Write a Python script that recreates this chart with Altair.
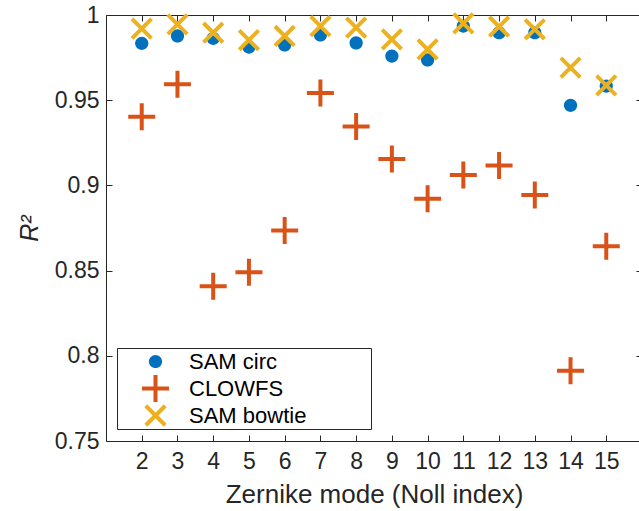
import altair as alt
import pandas as pd

modes = list(range(2, 16))
sam_circ = [0.9834, 0.9877, 0.9863, 0.9812, 0.9824, 0.9883, 0.9836,
            0.9759, 0.9736, 0.9935, 0.9896, 0.9896, 0.9470, 0.9583]
clowfs = [0.9403, 0.9593, 0.8408, 0.8490, 0.8735, 0.9542, 0.9346,
          0.9155, 0.8922, 0.9061, 0.9117, 0.8943, 0.7912, 0.8643]
sam_bowtie = [0.9920, 0.9945, 0.9896, 0.9853, 0.9877, 0.9935, 0.9926,
              0.9857, 0.9798, 0.9951, 0.9932, 0.9916, 0.9691, 0.9587]
series_names = ["SAM circ", "CLOWFS", "SAM bowtie"]
x_ticks = list(range(2, 16))
y_ticks = [0.75, 0.8, 0.85, 0.9, 0.95, 1.0]

rows = []
for name, vals in zip(series_names, [sam_circ, clowfs, sam_bowtie]):
    for m, v in zip(modes, vals):
        rows.append({"mode": m, "r2": v, "series": name})
df = pd.DataFrame(rows)

FONT = "Liberation Sans"
AX = "#262626"

BOX = "M-1,-1M1,1"
shape_range = [
    BOX + "M-0.49,0A0.49,0.49,0,1,0,0.49,0A0.49,0.49,0,1,0,-0.49,0Z",
    BOX + "M-1,0L1,0M0,-1L0,1",
    BOX + "M-0.72,-0.72L0.72,0.72M0.72,-0.72L-0.72,0.72",
]
fill_range = ["#0072BD", "transparent", "transparent"]
stroke_range = ["transparent", "#D95319", "#EDB120"]

xscale = alt.Scale(domain=[1, 16], nice=False, zero=False)
yscale = alt.Scale(domain=[0.75, 1.0], nice=False, zero=False)

legend = alt.Legend(
    title=None, orient="none", legendX=11, legendY=333,
    padding=0, symbolOffset=23, labelOffset=18, rowPadding=-6, clipHeight=27,
    symbolSize=729,
    strokeColor=AX, fillColor="white", cornerRadius=0,
    labelFont=FONT, labelFontSize=22, labelColor="black",
    symbolStrokeWidth=4, symbolOpacity=1, labelLimit=400,
    labelExpr="datum.label + '\u2800\u2800\u2800\u2800'",
)

main = alt.Chart(df).mark_point(strokeWidth=4, opacity=1, size=729).encode(
    x=alt.X("mode:Q", scale=xscale, axis=alt.Axis(
        orient="bottom", values=x_ticks, offset=-6, tickSize=6, domain=False,
        grid=False, labelPadding=9, labelFontSize=23, labelFont=FONT,
        labelColor=AX, tickColor=AX, title="Zernike mode (Noll index)",
        titleFont=FONT, titleFontSize=26, titleFontWeight="normal",
        titleColor=AX, titlePadding=8)),
    y=alt.Y("r2:Q", scale=yscale, axis=alt.Axis(
        orient="left", values=y_ticks, offset=-6, tickSize=6, domain=False,
        grid=False, labelPadding=7, labelFontSize=23, labelFont=FONT,
        labelColor=AX, tickColor=AX, format=".2~f", title="R²", titleFont=FONT,
        titleFontSize=25, titleFontStyle="italic", titleFontWeight="normal",
        titleColor=AX, titlePadding=12)),
    fill=alt.Fill("series:N", scale=alt.Scale(domain=series_names, range=fill_range), legend=legend),
    stroke=alt.Stroke("series:N", scale=alt.Scale(domain=series_names, range=stroke_range), legend=legend),
    shape=alt.Shape("series:N", scale=alt.Scale(domain=series_names, range=shape_range), legend=legend),
)

ticks2 = alt.Chart(df).mark_point(opacity=0).encode(
    x=alt.X("mode:Q", scale=xscale, axis=alt.Axis(
        orient="top", values=x_ticks, offset=-6, tickSize=6, domain=False,
        grid=False, labels=False, tickColor=AX, title=None)),
    y=alt.Y("r2:Q", scale=yscale, axis=alt.Axis(
        orient="right", values=y_ticks, offset=-6, tickSize=6, domain=False,
        grid=False, labels=False, tickColor=AX, title=None)),
)

chart = alt.layer(main, ticks2).resolve_axis(
    x="independent", y="independent"
).properties(
    width=536, height=426,
    autosize=alt.AutoSizeParams(type="none"),
    padding={"left": 106, "top": 15, "right": -3, "bottom": 70},
    background="white",
).configure_view(stroke=AX, strokeWidth=1)

chart.save("out.html", embed_options={"renderer": "svg", "actions": False})
